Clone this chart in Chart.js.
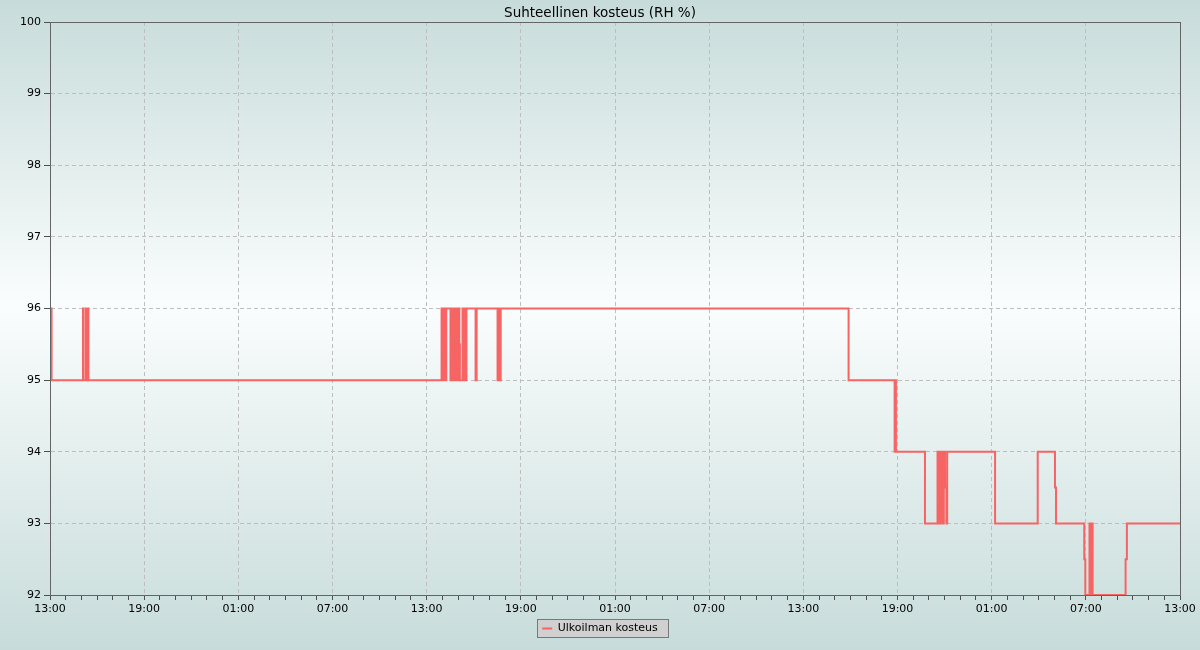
<!DOCTYPE html>
<html>
<head>
<meta charset="utf-8">
<script src="https://cdn.jsdelivr.net/npm/chart.js@4/dist/chart.umd.min.js"></script>
<style>
  html, body { margin: 0; padding: 0; background: #c8dcda; }
  canvas { display: block; }
</style>
</head>
<body>
<canvas id="c" width="1200" height="650"></canvas>
<script>
// Minutes after 13:00 on the first day (x), humidity value from that moment on (y)
const minutes = [0, 1, 6, 126, 128, 137, 140, 144, 147,
  1497, 1502, 1505, 1510, 1515, 1531, 1535, 1540, 1544, 1550, 1554, 1558, 1562, 1565, 1567,
  1577, 1581, 1586, 1590, 1592, 1627, 1631, 1711, 1715, 1718, 1723,
  3053, 3229, 3232, 3234, 3345, 3393, 3397, 3401, 3404, 3408, 3411, 3414, 3417, 3420, 3422, 3427, 3430,
  3613, 3776, 3842, 3846, 3954, 3958, 3974, 3978, 3982, 3986, 4112, 4117, 4320];
const humidity = [95.5, 96, 95, 96, 95, 96, 95, 96, 95,
  96, 95, 96, 95, 96, 95, 96, 95, 96, 95, 96, 95, 96, 95.5, 95,
  96, 95, 96, 95, 96, 95, 96, 95, 96, 95, 96,
  95, 94, 95, 94, 93, 94, 93, 94, 93, 93.5, 94, 93, 93.5, 94, 93.5, 93, 94,
  93, 94, 93.5, 93, 92.5, 92, 93, 92, 93, 92, 92.5, 93, 93];
const tickLabels = ['13:00', '19:00', '01:00', '07:00', '13:00', '19:00', '01:00', '07:00', '13:00', '19:00', '01:00', '07:00', '13:00'];
const seriesName = 'Ulkoilman kosteus';
const chartTitle = 'Suhteellinen kosteus (RH %)';

const FONT = 'DejaVu Sans';
const points = minutes.map((m, i) => ({ x: m, y: humidity[i] }));

const bgPlugin = {
  id: 'bg',
  beforeDraw(chart) {
    const { ctx, width, height } = chart;
    ctx.save();
    const g = ctx.createLinearGradient(0, 0, 0, height);
    g.addColorStop(0, 'rgb(199,220,218)');
    g.addColorStop(0.47, 'rgb(250,253,253)');
    g.addColorStop(1, 'rgb(199,220,218)');
    ctx.fillStyle = g;
    ctx.fillRect(0, 0, width, height);
    const hb = chart.legend && chart.legend.legendHitBoxes && chart.legend.legendHitBoxes[0];
    if (hb) {
      const l = Math.round(hb.left - 5) + 0.5;
      const t = Math.round(hb.top - 4) + 0.5;
      const w = Math.round(hb.width + 15);
      const h = Math.round(hb.height + 7);
      ctx.fillStyle = 'rgb(208,208,208)';
      ctx.fillRect(l, t, w, h);
      ctx.strokeStyle = 'rgb(120,120,120)';
      ctx.lineWidth = 1;
      ctx.strokeRect(l, t, w, h);
    }
    ctx.restore();
  },
  afterDatasetsDraw(chart) {
    const { ctx, chartArea: a } = chart;
    ctx.save();
    ctx.strokeStyle = 'rgb(100,100,100)';
    ctx.lineWidth = 1;
    const l = Math.round(a.left) + 0.5, t = Math.round(a.top) + 0.5;
    const r = Math.round(a.right) + 0.5, b = Math.round(a.bottom) + 0.5;
    ctx.strokeRect(l, t, r - l, b - t);
    ctx.restore();
  }
};

new Chart(document.getElementById('c'), {
  type: 'line',
  data: {
    datasets: [{
      label: seriesName,
      data: points,
      stepped: true,
      borderColor: 'rgb(246,100,100)',
      backgroundColor: 'rgb(246,100,100)',
      borderWidth: 2,
      pointRadius: 0,
      fill: false,
      tension: 0
    }]
  },
  options: {
    responsive: false,
    devicePixelRatio: 1,
    animation: false,
    layout: { padding: { top: 0, left: 0, right: 0, bottom: 6 } },
    plugins: {
      title: {
        display: true,
        text: chartTitle,
        color: '#000',
        font: { family: FONT, size: 13.5, weight: 'normal' },
        padding: { top: 5, bottom: 0.8 }
      },
      legend: {
        display: true,
        position: 'bottom',
        labels: {
          usePointStyle: true,
          pointStyle: 'line',
          pointStyleWidth: 10,
          color: '#000',
          padding: 4,
          font: { family: FONT, size: 11 }
        }
      },
      tooltip: { enabled: false }
    },
    scales: {
      x: {
        type: 'linear',
        min: 0,
        max: 4320,
        afterFit(s) { s.height = 24; },
        ticks: {
          stepSize: 60,
          maxTicksLimit: 200,
          autoSkip: false,
          maxRotation: 0,
          padding: 3,
          color: '#000',
          font: { family: FONT, size: 11 },
          callback: (v) => (v % 360 === 0 ? tickLabels[v / 360] : '')
        },
        grid: {
          color: (c) => (c.tick && c.tick.value % 360 === 0 ? 'rgb(190,190,190)' : 'rgba(0,0,0,0)'),
          tickColor: 'rgb(80,80,80)',
          tickLength: 5,
          lineWidth: 1
        },
        border: { display: true, color: 'rgb(100,100,100)', dash: [4, 3] }
      },
      y: {
        min: 92,
        max: 100,
        afterFit(s) { s.width = 50; },
        ticks: {
          stepSize: 1,
          padding: 3,
          color: '#000',
          font: { family: FONT, size: 11 }
        },
        grid: {
          color: 'rgb(190,190,190)',
          tickColor: 'rgb(80,80,80)',
          tickLength: 6,
          lineWidth: 1
        },
        border: { display: true, color: 'rgb(100,100,100)', dash: [4, 3] }
      },
      yRight: {
        position: 'right',
        display: true,
        afterFit(s) { s.width = 20; },
        ticks: { display: false },
        grid: { display: false, drawTicks: false },
        border: { display: false }
      }
    }
  },
  plugins: [bgPlugin]
});
</script>
</body>
</html>
